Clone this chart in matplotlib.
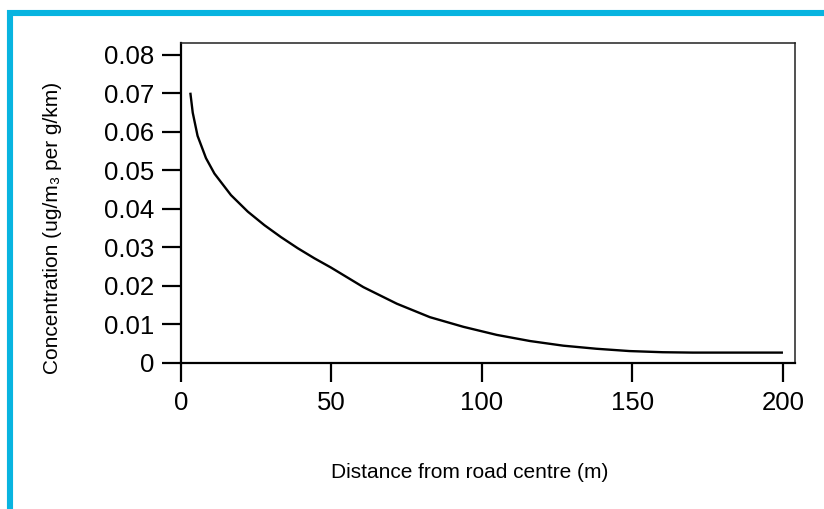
import matplotlib
matplotlib.use('Agg')
from matplotlib import pyplot as plt
from matplotlib.lines import Line2D

plt.rcParams['font.family'] = ['Liberation Sans', 'DejaVu Sans']

# values
distance = [3.1, 3.9, 5.5, 8.3, 11.1, 16.6, 22.2, 27.7, 33.2, 38.8, 44.3, 49.8,
            60.6, 71.7, 82.7, 93.8, 104.9, 116, 127, 138, 149, 160, 170, 185, 200]
concentration = [0.0702, 0.0650, 0.0590, 0.0532, 0.0492, 0.0436, 0.0393, 0.0358,
                 0.0327, 0.0298, 0.0272, 0.0248, 0.0197, 0.0154, 0.0119, 0.0094,
                 0.0073, 0.0057, 0.0045, 0.0037, 0.0031, 0.0028, 0.0027, 0.0027,
                 0.0027]
xticks = [0, 50, 100, 150, 200]
yticks = [0, 0.01, 0.02, 0.03, 0.04, 0.05, 0.06, 0.07, 0.08]
ytick_labels = ['0', '0.01', '0.02', '0.03', '0.04', '0.05', '0.06', '0.07', '0.08']

W, H = 824, 509
fig = plt.figure(figsize=(W / 100, H / 100), dpi=100)
ax = fig.add_axes([181 / W, 1 - 363 / H, (795 - 181) / W, (363 - 43) / H])

ax.plot(distance, concentration, c='k', lw=1.7, solid_capstyle='butt',
        solid_joinstyle='round')
ax.set_xlim(0, 204)
ax.set_ylim(0, 0.0831)
ax.set_xticks(xticks)
ax.set_xticklabels([str(t) for t in xticks])
ax.set_yticks(yticks)
ax.set_yticklabels(ytick_labels)

for s in ['left', 'bottom']:
    ax.spines[s].set_linewidth(1.6)
for s in ['top', 'right']:
    ax.spines[s].set_linewidth(1.1)
    ax.spines[s].set_color('#222222')
ax.tick_params(axis='both', direction='out', length=14, width=1.6,
               labelsize=18.5, colors='k')
ax.tick_params(axis='y', pad=5.5)
ax.tick_params(axis='x', pad=6)
ax.tick_params(top=False, right=False)

fig.text(470 / W, 1 - 472 / H, 'Distance from road centre (m)', ha='center',
         va='center', fontsize=15)
fig.text(53 / W, 1 - 228 / H, 'Concentration (ug/m\u2083 per g/km)', ha='center',
         va='center', rotation=90, fontsize=15)

# blue frame, open to the right and bottom
blue = '#08B4E0'
fig.add_artist(Line2D([7 / W, 1.0], [1 - 13 / H, 1 - 13 / H], color=blue, lw=4.4,
                      transform=fig.transFigure, solid_capstyle='butt'))
fig.add_artist(Line2D([10 / W, 10 / W], [0, 1 - 10 / H], color=blue, lw=4.4,
                      transform=fig.transFigure, solid_capstyle='butt'))

fig.savefig('out.png', dpi=100)
